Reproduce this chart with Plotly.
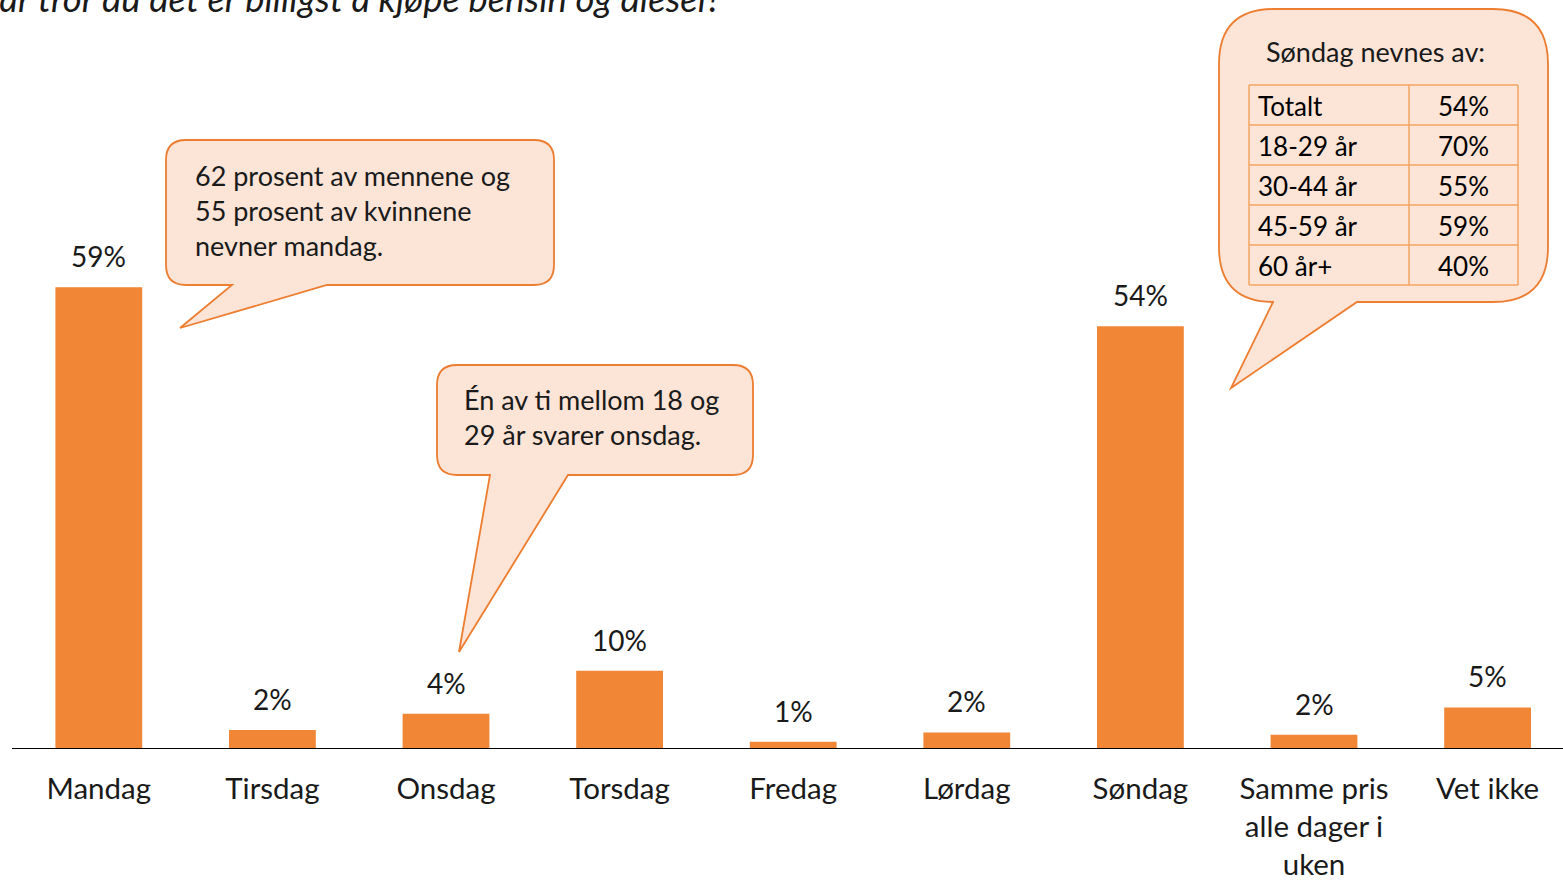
import plotly.graph_objects as go

# ---------------- data ----------------
categories = ["Mandag", "Tirsdag", "Onsdag", "Torsdag", "Fredag", "Lørdag", "Søndag",
              "Samme pris<br>alle dager i<br>uken", "Vet ikke"]
values = [59.0, 2.3, 4.4, 9.9, 0.8, 2.0, 54.0, 1.7, 5.2]
value_labels = ["59%", "2%", "4%", "10%", "1%", "2%", "54%", "2%", "5%"]

title_text = "Når tror du det er billigst å kjøpe bensin og diesel?"

callout_mandag = "62 prosent av mennene og<br>55 prosent av kvinnene<br>nevner mandag."
callout_onsdag = "Én av ti mellom 18 og<br>29 år svarer onsdag."
callout_sondag_title = "Søndag nevnes av:"
table_groups = ["Totalt", "18-29 år", "30-44 år", "45-59 år", "60 år+"]
table_values = ["54%", "70%", "55%", "59%", "40%"]

# ---------------- style ----------------
W, H = 1563, 880
ML, MR, MT, MB = 12, 0, 0, 132
PW, PH = W - ML - MR, H - MT - MB
FONT = "Lato"
BAR_COLOR = "#F08636"
BUBBLE_FILL = "#FCE4D6"
BUBBLE_LINE = "#ED7D31"
TABLE_LINE = "#F4A460"
TXT = "#1a1a1a"


def px(x):
    return (x - ML) / PW


def py(y):
    return (MT + PH - y) / PH


def bubble(x0, y0, x1, y1, r, tl, tr, tip):
    """speech bubble path in paper coords; tail on bottom edge from tl to tr."""
    pts = []
    pts.append(f"M{px(x0 + r)},{py(y0)}")
    pts.append(f"L{px(x1 - r)},{py(y0)}")
    pts.append(f"Q{px(x1)},{py(y0)} {px(x1)},{py(y0 + r)}")
    pts.append(f"L{px(x1)},{py(y1 - r)}")
    pts.append(f"Q{px(x1)},{py(y1)} {px(x1 - r)},{py(y1)}")
    pts.append(f"L{px(tr)},{py(y1)}")
    pts.append(f"L{px(tip[0])},{py(tip[1])}")
    pts.append(f"L{px(tl)},{py(y1)}")
    pts.append(f"L{px(x0 + r)},{py(y1)}")
    pts.append(f"Q{px(x0)},{py(y1)} {px(x0)},{py(y1 - r)}")
    pts.append(f"L{px(x0)},{py(y0 + r)}")
    pts.append(f"Q{px(x0)},{py(y0)} {px(x0 + r)},{py(y0)}")
    pts.append("Z")
    return dict(type="path", xref="paper", yref="paper", path=" ".join(pts),
                fillcolor=BUBBLE_FILL, line=dict(color=BUBBLE_LINE, width=1.8), layer="above")


fig = go.Figure()
fig.add_trace(go.Bar(x=categories, y=values, width=0.5, marker=dict(color=BAR_COLOR, line=dict(width=0)),
                     hoverinfo="skip"))

annotations = []
for c, v, t in zip(categories, values, value_labels):
    annotations.append(dict(x=c, y=v, xref="x", yref="y", text=t, showarrow=False,
                            yanchor="bottom", yshift=12, font=dict(family=FONT, size=28, color=TXT)))

# title (clipped at top/left as in reference)
annotations.append(dict(xref="paper", yref="paper", x=px(-28), y=py(22), xanchor="left", yanchor="bottom",
                        text=f"<i>{title_text}</i>", showarrow=False,
                        font=dict(family=FONT, size=36.5, color=TXT)))

shapes = [
    bubble(166, 140, 554, 285, 20, 232, 327, (180, 328)),
    bubble(437, 365, 753, 475, 20, 490, 568, (459, 652)),
    bubble(1219, 9, 1548, 302, 55, 1273, 1357, (1231, 388)),
]

annotations.append(dict(xref="paper", yref="paper", x=px(193), y=py(157), xanchor="left", yanchor="top",
                        align="left", text=callout_mandag, showarrow=False,
                        font=dict(family=FONT, size=27, color=TXT)))
annotations.append(dict(xref="paper", yref="paper", x=px(462), y=py(381), xanchor="left", yanchor="top",
                        align="left", text=callout_onsdag, showarrow=False,
                        font=dict(family=FONT, size=27, color=TXT)))
annotations.append(dict(xref="paper", yref="paper", x=px(1375), y=py(52), xanchor="center", yanchor="middle",
                        text=callout_sondag_title, showarrow=False,
                        font=dict(family=FONT, size=27, color=TXT)))

# table inside søndag bubble
tx0, tx1, tsplit, ty0, row_h = 1249, 1518, 1409, 85, 40
n = len(table_groups)
for i in range(n + 1):
    yy = ty0 + i * row_h
    shapes.append(dict(type="line", xref="paper", yref="paper", x0=px(tx0), x1=px(tx1), y0=py(yy), y1=py(yy),
                       line=dict(color=TABLE_LINE, width=1.5), layer="above"))
for xx in (tx0, tsplit, tx1):
    shapes.append(dict(type="line", xref="paper", yref="paper", x0=px(xx), x1=px(xx), y0=py(ty0),
                       y1=py(ty0 + n * row_h), line=dict(color=TABLE_LINE, width=1.5), layer="above"))
for i, (g, v) in enumerate(zip(table_groups, table_values)):
    yc = ty0 + (i + 0.5) * row_h
    annotations.append(dict(xref="paper", yref="paper", x=px(tx0 + 7), y=py(yc + 1), xanchor="left",
                            yanchor="middle", text=g, showarrow=False,
                            font=dict(family=FONT, size=26, color="#000")))
    annotations.append(dict(xref="paper", yref="paper", x=px((tsplit + tx1) / 2), y=py(yc + 1), xanchor="center",
                            yanchor="middle", text=v, showarrow=False,
                            font=dict(family=FONT, size=26, color="#000")))

units_visible = PW / 173.6
fig.update_layout(
    width=W, height=H,
    margin=dict(l=ML, r=MR, t=MT, b=MB, pad=0),
    paper_bgcolor="white", plot_bgcolor="white",
    showlegend=False,
    font=dict(family=FONT, color=TXT),
    xaxis=dict(range=[-0.5, -0.5 + units_visible], showline=True, linecolor="#000", linewidth=1.3,
               showgrid=False, zeroline=False, ticks="", tickfont=dict(family=FONT, size=29.5, color=TXT),
               ticklabelstandoff=14, fixedrange=True),
    yaxis=dict(range=[0, PH / 7.81], visible=False, showgrid=False, zeroline=False, fixedrange=True),
    shapes=shapes,
    annotations=annotations,
    bargap=0.5,
)

fig.write_html("out.html", config={"displayModeBar": False, "staticPlot": True},
               post_script="document.body.style.margin='0';document.body.style.overflow='hidden';")
